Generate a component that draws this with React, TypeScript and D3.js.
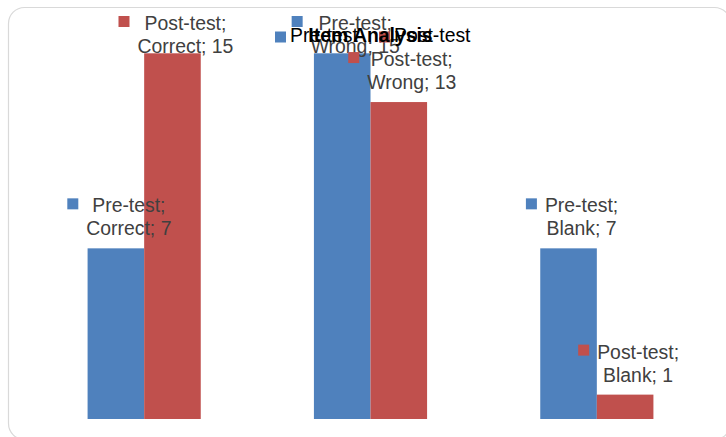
import React, { useEffect, useRef } from 'react';
import * as d3 from 'd3';

const categories = ['Correct', 'Wrong', 'Blank'];
const seriesNames = ['Pre-test', 'Post-test'];
const preTest = [7, 15, 7];
const postTest = [15, 13, 1];
const seriesColors = ['#4F81BD', '#C0504D'];

const W = 726;
const H = 437;
const FONT = '"Liberation Sans", Arial, sans-serif';

const App: React.FC = () => {
  const svgRef = useRef<SVGSVGElement>(null);

  useEffect(() => {
    if (!svgRef.current) return;
    const svg = d3.select(svgRef.current);
    svg.selectAll('*').remove();

    // chart frame
    svg.append('rect')
      .attr('x', 8.5).attr('y', 7.5)
      .attr('width', 722).attr('height', 432)
      .attr('rx', 16).attr('ry', 16)
      .attr('fill', '#fff')
      .attr('stroke', '#d9d9d9')
      .attr('stroke-width', 1.2);

    const x = d3.scaleBand<string>()
      .domain(categories)
      .range([31, 710])
      .paddingInner(0.5)
      .paddingOuter(0.25);

    const xs = d3.scaleBand<string>()
      .domain(seriesNames)
      .range([0, x.bandwidth()])
      .padding(0);

    const y = d3.scaleLinear().domain([0, 15]).range([419, 53.3]);

    const data = categories.flatMap((cat, i) => [
      { cat, series: seriesNames[0], value: preTest[i], color: seriesColors[0] },
      { cat, series: seriesNames[1], value: postTest[i], color: seriesColors[1] },
    ]);

    // bars
    svg.append('g')
      .selectAll('rect')
      .data(data)
      .join('rect')
      .attr('x', d => (x(d.cat) || 0) + (xs(d.series) || 0))
      .attr('y', d => y(d.value))
      .attr('width', xs.bandwidth())
      .attr('height', d => y(0) - y(d.value))
      .attr('fill', d => d.color);

    // data labels with legend keys
    const labels = svg.append('g');
    data.forEach(d => {
      const barCenter = (x(d.cat) || 0) + (xs(d.series) || 0) + xs.bandwidth() / 2;
      const textCenter = barCenter + 13;
      let line2 = y(d.value) - 13;
      let line1 = line2 - 23;
      if (line1 < 30) {
        line1 = 30;
        line2 = 53;
      }
      const g = labels.append('g');
      const t1 = g.append('text')
        .attr('x', textCenter).attr('y', line1)
        .attr('text-anchor', 'middle')
        .attr('font-family', FONT).attr('font-size', 19.4)
        .attr('fill', '#404040')
        .text(`${d.series};`);
      const t2 = g.append('text')
        .attr('x', textCenter).attr('y', line2)
        .attr('text-anchor', 'middle')
        .attr('font-family', FONT).attr('font-size', 19.4)
        .attr('fill', '#404040')
        .text(`${d.cat}; ${d.value}`);
      const w1 = (t1.node() as SVGTextElement).getComputedTextLength();
      const w2 = (t2.node() as SVGTextElement).getComputedTextLength();
      const left = textCenter - Math.max(w1, w2) / 2;
      g.append('rect')
        .attr('x', left - 8 - 11)
        .attr('y', line1 - 14)
        .attr('width', 11).attr('height', 11)
        .attr('fill', d.color);
    });

    // legend
    const legend = svg.append('g');
    const legendX = [275, 379];
    seriesNames.forEach((name, i) => {
      legend.append('rect')
        .attr('x', legendX[i]).attr('y', 31.5)
        .attr('width', 11).attr('height', 11)
        .attr('fill', seriesColors[i]);
      legend.append('text')
        .attr('x', legendX[i] + 15).attr('y', 42)
        .attr('font-family', FONT).attr('font-size', 19.4)
        .attr('fill', '#000')
        .text(name);
    });

    // title
    svg.append('text')
      .attr('x', 370.5).attr('y', 42)
      .attr('text-anchor', 'middle')
      .attr('font-family', FONT).attr('font-size', 19.4)
      .attr('font-weight', 'bold')
      .attr('fill', '#000')
      .text('Item Analysis');
  }, []);

  return (
    <div style={{ position: 'absolute', left: 0, top: 0, width: W, height: H, overflow: 'hidden' }}>
      <svg ref={svgRef} width={W} height={H} style={{ display: 'block' }} />
    </div>
  );
};

export default App;
